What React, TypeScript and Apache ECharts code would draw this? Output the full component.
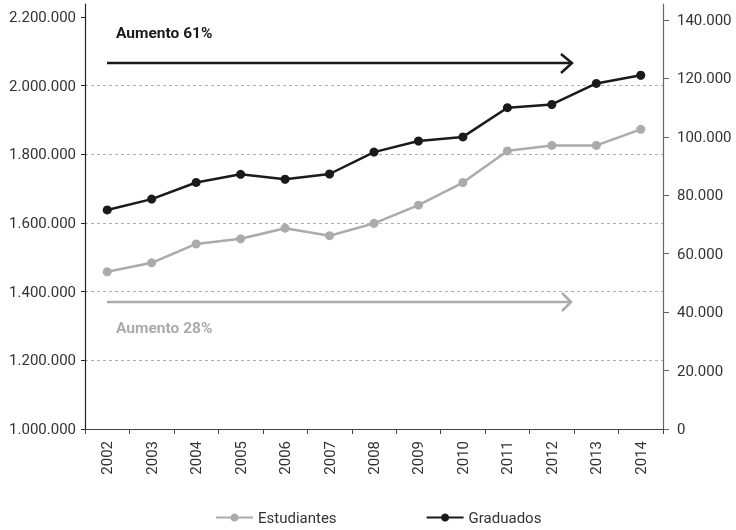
import React, { useEffect, useRef } from "react";
import * as echarts from "echarts";

const years = ["2002", "2003", "2004", "2005", "2006", "2007", "2008", "2009", "2010", "2011", "2012", "2013", "2014"];
const estudiantes = [1458000, 1484000, 1539000, 1554000, 1585000, 1563000, 1599000, 1652000, 1718000, 1810000, 1826000, 1826000, 1873000];
const graduados = [75000, 78700, 84400, 87200, 85500, 87300, 94800, 98600, 100000, 110000, 111100, 118300, 121100];
const leftTicks = [1000000, 1200000, 1400000, 1600000, 1800000, 2000000, 2200000];
const rightTicks = [0, 20000, 40000, 60000, 80000, 100000, 120000, 140000];
const annotationTop = "Aumento 61%";
const annotationBottom = "Aumento 28%";

const FONT = "Roboto";
const GREY = "#ababab";
const BLACK = "#1a1a1a";

const fmt = (v: number) => String(Math.round(v)).replace(/\B(?=(\d{3})+(?!\d))/g, ".");

export default function App() {
  const ref = useRef<HTMLDivElement>(null);
  useEffect(() => {
    if (!ref.current) return;
    const chart = echarts.init(ref.current, undefined, { renderer: "svg" });
    chart.setOption({
      animation: false,
      textStyle: { fontFamily: FONT },
      grid: { left: 85, right: 73, top: 4, bottom: 101, containLabel: false },
      legend: {
        data: ["Estudiantes", "Graduados"],
        left: 210,
        top: 505,
        itemWidth: 37,
        itemHeight: 10,
        itemGap: 89,
        textStyle: { fontFamily: FONT, fontSize: 15, color: "#333" },
      },
      xAxis: {
        type: "category",
        data: years,
        boundaryGap: true,
        axisLine: { lineStyle: { color: "#444", width: 1.2 } },
        axisTick: { show: true, length: 5, lineStyle: { color: "#444" } },
        axisLabel: { rotate: 90, margin: 12, fontSize: 15, color: "#333", fontFamily: FONT },
        splitLine: { show: false },
      },
      yAxis: [
        {
          type: "value",
          min: 1000000,
          max: 2238000,
          position: "left",
          axisLine: { show: true, lineStyle: { color: "#222", width: 1.2 } },
          axisTick: { show: true, length: 4, lineStyle: { color: "#222" }, customValues: leftTicks },
          axisLabel: { customValues: leftTicks, formatter: (v: number) => fmt(v), margin: 9, fontSize: 15, color: "#333", fontFamily: FONT },
          splitLine: { show: true, showMaxLine: false, lineStyle: { color: "#b0b0b0", type: [3, 3], width: 1 } },
        },
        {
          type: "value",
          min: 0,
          max: 145500,
          position: "right",
          axisLine: { show: true, lineStyle: { color: "#666", width: 1.2 } },
          axisTick: { show: true, length: 6, lineStyle: { color: "#666" }, customValues: rightTicks },
          axisLabel: { customValues: rightTicks, formatter: (v: number) => fmt(v), margin: 14, fontSize: 15, color: "#333", fontFamily: FONT },
          splitLine: { show: false },
        },
      ],
      series: [
        {
          name: "Estudiantes",
          type: "line",
          yAxisIndex: 0,
          data: estudiantes,
          symbol: "circle",
          symbolSize: 9,
          lineStyle: { color: GREY, width: 2.5 },
          itemStyle: { color: GREY },
        },
        {
          name: "Graduados",
          type: "line",
          yAxisIndex: 1,
          data: graduados,
          symbol: "circle",
          symbolSize: 9,
          lineStyle: { color: BLACK, width: 2.5 },
          itemStyle: { color: BLACK },
        },
      ],
      graphic: [
        { type: "line", shape: { x1: 107, y1: 63, x2: 572, y2: 63 }, style: { stroke: BLACK, lineWidth: 2.5 } },
        { type: "polyline", shape: { points: [[561, 54], [572, 63], [561, 73]] }, style: { stroke: BLACK, lineWidth: 2.5, fill: "none" } },
        { type: "text", x: 116, y: 33, style: { text: annotationTop, fontFamily: FONT, fontWeight: "bold", fontSize: 15.5, fill: BLACK, verticalAlign: "middle", align: "left" } },
        { type: "line", shape: { x1: 107, y1: 302, x2: 571, y2: 302 }, style: { stroke: GREY, lineWidth: 2.5 } },
        { type: "polyline", shape: { points: [[562, 293], [571, 302], [562, 311]] }, style: { stroke: GREY, lineWidth: 2.5, fill: "none" } },
        { type: "text", x: 116, y: 328, style: { text: annotationBottom, fontFamily: FONT, fontWeight: "bold", fontSize: 15.5, fill: GREY, verticalAlign: "middle", align: "left" } },
      ],
    });
    return () => chart.dispose();
  }, []);
  return <div ref={ref} style={{ position: "fixed", left: 0, top: 0, width: 736, height: 530 }} />;
}
